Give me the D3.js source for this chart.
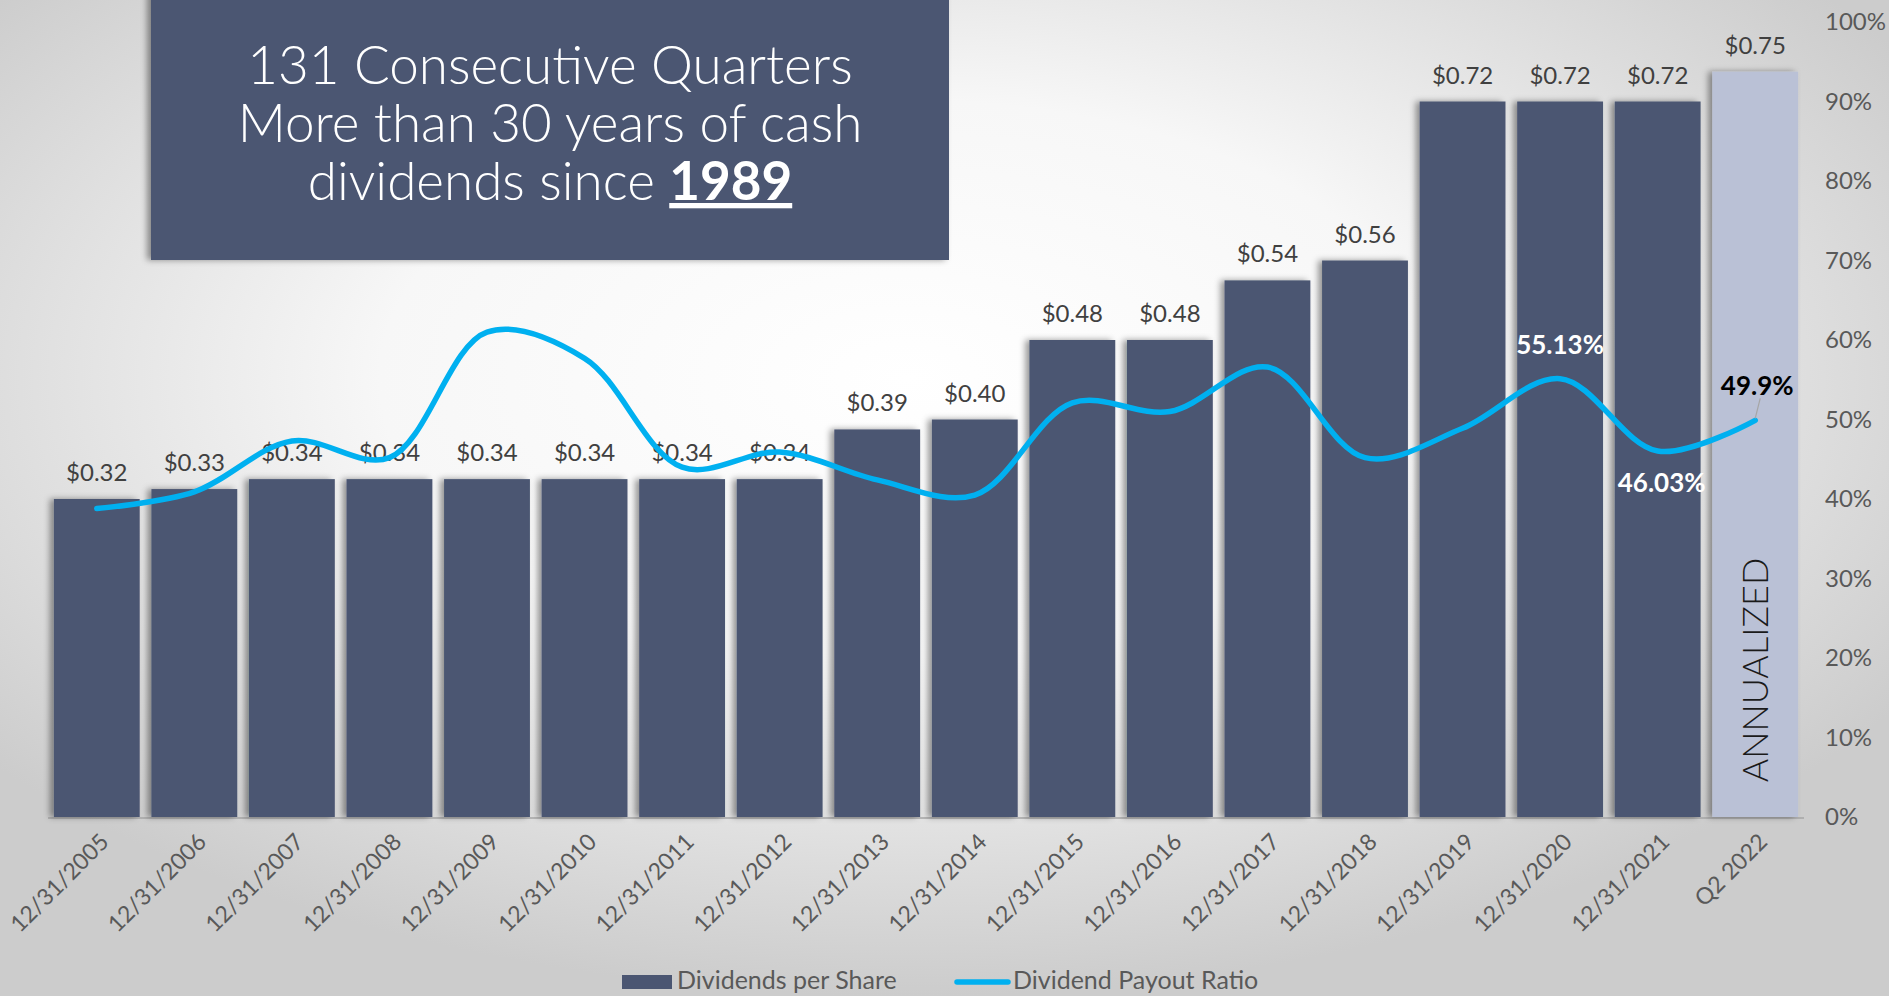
<!DOCTYPE html>
<html>
<head>
<meta charset="utf-8">
<script src="https://cdn.jsdelivr.net/npm/d3@7"></script>
<style>
  html, body { margin: 0; padding: 0; }
  body { width: 1889px; height: 996px; overflow: hidden; }
  svg { display: block; font-family: Lato, "Open Sans", sans-serif; }
</style>
</head>
<body>
<svg width="1889" height="996"></svg>
<script>
// chart data
const categories = ["12/31/2005", "12/31/2006", "12/31/2007", "12/31/2008", "12/31/2009",
    "12/31/2010", "12/31/2011", "12/31/2012", "12/31/2013", "12/31/2014", "12/31/2015",
    "12/31/2016", "12/31/2017", "12/31/2018", "12/31/2019", "12/31/2020", "12/31/2021", "Q2 2022"];
const dividends = [0.32, 0.33, 0.34, 0.34, 0.34, 0.34, 0.34, 0.34, 0.39, 0.40,
    0.48, 0.48, 0.54, 0.56, 0.72, 0.72, 0.72, 0.75];
const payoutRatio = [38.8, 40.9, 47.3, 45.2, 61.0, 57.7, 44.0, 45.9, 42.4, 40.5,
    52.1, 51.0, 56.6, 45.2, 48.9, 55.13, 46.03, 49.9];
const pctTicks = [0, 10, 20, 30, 40, 50, 60, 70, 80, 90, 100];
const titleLines = ["131 Consecutive Quarters", "More than 30 years of cash", "dividends since "];
const titleYear = "1989";

let svg = d3.select("svg"),
    width = +svg.attr("width"),
    height = +svg.attr("height");

let defs = svg.append("defs");

// background: light radial glow
let bg = defs.append("radialGradient")
    .attr("id", "bg")
    .attr("cx", "48%").attr("cy", "38%").attr("r", "62%");
bg.append("stop").attr("offset", "0%").attr("stop-color", "#ffffff");
bg.append("stop").attr("offset", "45%").attr("stop-color", "#f7f7f7");
bg.append("stop").attr("offset", "100%").attr("stop-color", "#cccccc");

let shadow = defs.append("filter")
    .attr("id", "shadow")
    .attr("x", "-20%").attr("y", "-5%").attr("width", "140%").attr("height", "110%");
shadow.append("feDropShadow")
    .attr("dx", -4).attr("dy", 0)
    .attr("stdDeviation", 3)
    .attr("flood-color", "#000").attr("flood-opacity", 0.4);

svg.append("rect")
    .attr("width", width).attr("height", height)
    .attr("fill", "url(#bg)");

// scales
let x = d3.scaleBand()
    .domain(categories)
    .range([48, 1804])
    .paddingInner(0.12)
    .paddingOuter(0.06);

let yBar = d3.scaleLinear().domain([0, 0.8]).range([817, 22]);
let yPct = d3.scaleLinear().domain([0, 100]).range([817, 22]);

let g = svg.append("g");

// baseline
g.append("line")
    .attr("x1", x.range()[0]).attr("x2", x.range()[1])
    .attr("y1", yBar(0) + 1).attr("y2", yBar(0) + 1)
    .attr("stroke", "#a6a6a6").attr("stroke-width", 1.5);

// bars
g.append("g")
    .selectAll("rect")
    .data(dividends)
    .enter().append("rect")
    .attr("x", (d, i) => x(categories[i]))
    .attr("y", d => yBar(d))
    .attr("width", x.bandwidth())
    .attr("height", d => yBar(0) - yBar(d))
    .attr("fill", (d, i) => i === dividends.length - 1 ? "#bac1d6" : "#4b5672")
    .attr("filter", "url(#shadow)");

// bar value labels
g.append("g")
    .selectAll("text")
    .data(dividends)
    .enter().append("text")
    .attr("x", (d, i) => x(categories[i]) + x.bandwidth() / 2)
    .attr("y", d => yBar(d) - 18)
    .attr("text-anchor", "middle")
    .attr("font-size", 24)
    .attr("fill", "#404040")
    .text(d => "$" + d.toFixed(2));

// annualized note on last bar
let last = categories[categories.length - 1];
g.append("text")
    .attr("transform", "translate(" + (x(last) + x.bandwidth() / 2 + 13) + ",670) rotate(-90)")
    .attr("text-anchor", "middle")
    .attr("font-size", 36)
    .attr("font-weight", 300)
    .attr("fill", "#1a1a1a")
    .text("ANNUALIZED");

// right percentage axis
let yAxis = d3.axisRight(yPct)
    .tickValues(pctTicks)
    .tickSize(0)
    .tickPadding(0)
    .tickFormat(d => d + "%");

let axisG = svg.append("g")
    .attr("transform", "translate(1825,0)")
    .call(yAxis);
axisG.select(".domain").remove();
axisG.selectAll("text")
    .attr("font-family", "Lato, sans-serif")
    .attr("font-size", 24)
    .attr("fill", "#595959");

// category labels
g.append("g")
    .selectAll("text")
    .data(categories)
    .enter().append("text")
    .attr("transform", d => "translate(" + (x(d) + x.bandwidth() / 2 + 2) + ",832) rotate(-45)")
    .attr("text-anchor", "end")
    .attr("dy", "0.7em")
    .attr("font-size", 23)
    .attr("fill", "#595959")
    .text(d => d);

// payout ratio line
let line = d3.line()
    .x((d, i) => x(categories[i]) + x.bandwidth() / 2)
    .y(d => yPct(d))
    .curve(d3.curveCatmullRom.alpha(0.5));

g.append("path")
    .datum(payoutRatio)
    .attr("d", line)
    .attr("fill", "none")
    .attr("stroke", "#00b0f0")
    .attr("stroke-width", 5.5)
    .attr("stroke-linecap", "round");

// ratio labels
let n = payoutRatio.length;
let cx = i => x(categories[i]) + x.bandwidth() / 2;
g.append("text")
    .attr("x", cx(n - 3)).attr("y", yPct(payoutRatio[n - 3]) - 25)
    .attr("text-anchor", "middle")
    .attr("font-size", 26).attr("font-weight", 700)
    .attr("fill", "#ffffff")
    .text(payoutRatio[n - 3].toFixed(2) + "%");
g.append("text")
    .attr("x", cx(n - 2) + 4).attr("y", yPct(payoutRatio[n - 2]) + 41)
    .attr("text-anchor", "middle")
    .attr("font-size", 26).attr("font-weight", 700)
    .attr("fill", "#ffffff")
    .text(payoutRatio[n - 2].toFixed(2) + "%");
g.append("line")
    .attr("x1", cx(n - 1)).attr("y1", yPct(payoutRatio[n - 1]) - 2)
    .attr("x2", cx(n - 1) + 5).attr("y2", yPct(payoutRatio[n - 1]) - 22)
    .attr("stroke", "#a6a6a6").attr("stroke-width", 1.2);
g.append("text")
    .attr("x", cx(n - 1) + 2).attr("y", yPct(payoutRatio[n - 1]) - 25)
    .attr("text-anchor", "middle")
    .attr("font-size", 26).attr("font-weight", 700)
    .attr("fill", "#000000")
    .text(payoutRatio[n - 1].toFixed(1) + "%");

// title box
let box = svg.append("g");
box.append("rect")
    .attr("x", 151).attr("y", -10)
    .attr("width", 798).attr("height", 270)
    .attr("fill", "#4b5672")
    .attr("filter", "url(#shadow)");

let title = box.append("g")
    .attr("font-size", 53)
    .attr("font-weight", 300)
    .attr("fill", "#ffffff")
    .attr("text-anchor", "middle");
title.selectAll("text.line")
    .data(titleLines.slice(0, 2))
    .enter().append("text")
    .attr("class", "line")
    .attr("x", 550)
    .attr("y", (d, i) => 84 + i * 58)
    .text(d => d);
let t3 = title.append("text")
    .attr("x", 550).attr("y", 200);
t3.append("tspan").text(titleLines[2]);
t3.append("tspan")
    .attr("font-weight", 700)
    .attr("text-decoration", "underline")
    .text(titleYear);

// legend
let legend = svg.append("g")
    .attr("font-size", 25)
    .attr("fill", "#595959");
legend.append("rect")
    .attr("x", 622).attr("y", 975)
    .attr("width", 50).attr("height", 14)
    .attr("fill", "#4b5672");
legend.append("text")
    .attr("x", 677).attr("y", 989)
    .text("Dividends per Share");
legend.append("line")
    .attr("x1", 957).attr("x2", 1008)
    .attr("y1", 982).attr("y2", 982)
    .attr("stroke", "#00b0f0").attr("stroke-width", 5.5)
    .attr("stroke-linecap", "round");
legend.append("text")
    .attr("x", 1013).attr("y", 989)
    .text("Dividend Payout Ratio");
</script>
</body>
</html>
